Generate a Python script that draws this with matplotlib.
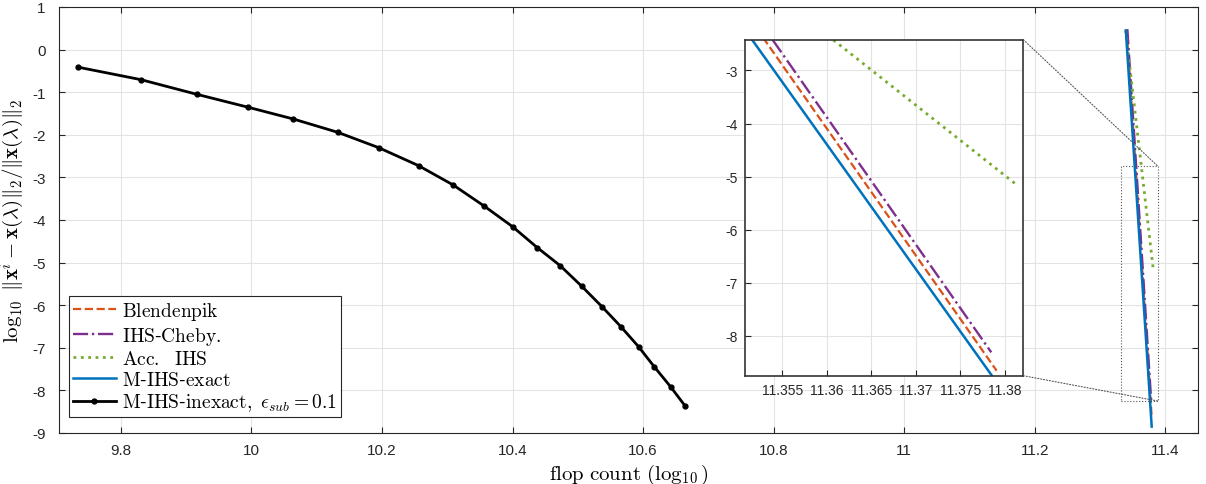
import matplotlib
matplotlib.use("Agg")
import matplotlib.pyplot as plt
from matplotlib.patches import Rectangle, ConnectionPatch

plt.rcParams['font.family'] = ['Liberation Sans', 'DejaVu Sans']
plt.rcParams['mathtext.fontset'] = 'cm'

# data (x: log10 flops, y: log10 relative error)
inexact_x = [9.735, 9.831, 9.916, 9.995, 10.064, 10.132, 10.195, 10.256, 10.309, 10.357,
             10.400, 10.438, 10.473, 10.506, 10.537, 10.566, 10.593, 10.617, 10.642, 10.664]
inexact_y = [-0.415, -0.707, -1.049, -1.354, -1.629, -1.941, -2.303, -2.725, -3.178, -3.678,
             -4.157, -4.650, -5.073, -5.556, -6.035, -6.505, -6.974, -7.444, -7.913, -8.359]

exact_x = [11.3394, 11.3516, 11.3790]
exact_y = [0.45, -2.42, -8.85]
blend_x = [11.3409, 11.3530, 11.3791]
blend_y = [0.45, -2.42, -8.655]
cheby_x = [11.3417, 11.3539, 11.3785]
cheby_y = [0.48, -2.42, -8.31]
acc_x = [11.3390, 11.3607, 11.3814]
acc_y = [0.45, -2.42, -5.16]

labels = ['$\\mathrm{Blendenpik}$', '$\\mathrm{IHS}$' + '-' + '$\\mathrm{Cheby.}$',
          '$\\mathrm{Acc.\\ \\ IHS}$', '$\\mathrm{M}$-$\\mathrm{IHS}$-$\\mathrm{exact}$',
          '$\\mathrm{M}$-$\\mathrm{IHS}$-$\\mathrm{inexact,}\\ \\epsilon_{sub} = 0.1$']

xticks = [9.8, 10, 10.2, 10.4, 10.6, 10.8, 11, 11.2, 11.4]
xtick_labels = ['9.8', '10', '10.2', '10.4', '10.6', '10.8', '11', '11.2', '11.4']
yticks = list(range(-9, 2))
in_xticks = [11.355, 11.36, 11.365, 11.37, 11.375, 11.38]
in_xtick_labels = ['11.355', '11.36', '11.365', '11.37', '11.375', '11.38']
in_yticks = [-8, -7, -6, -5, -4, -3]

c_blend = (0.850, 0.325, 0.098)
c_cheby = (0.494, 0.184, 0.556)
c_acc = (0.466, 0.674, 0.188)
c_exact = (0.000, 0.447, 0.741)


def draw_lines(ax):
    h = []
    h += ax.plot(blend_x, blend_y, '--', color=c_blend, lw=1.6)
    h += ax.plot(cheby_x, cheby_y, '-.', color=c_cheby, lw=1.7)
    h += ax.plot(acc_x, acc_y, ':', color=c_acc, lw=2)
    h += ax.plot(exact_x, exact_y, '-', color=c_exact, lw=1.8)
    return h


def style(ax):
    ax.grid(True, color='#e3e3e3', lw=0.8)
    ax.set_axisbelow(True)
    ax.tick_params(direction='in', top=True, right=True, length=4, width=0.8, colors='#262626')
    for s in ax.spines.values():
        s.set_color('#262626')
        s.set_linewidth(0.8)


fig = plt.figure(figsize=(12.06, 4.85), dpi=100)
ax = fig.add_axes([0.0493, 0.1052, 0.9440, 0.8784])
h = draw_lines(ax)
h += ax.plot(inexact_x, inexact_y, '-', color='k', lw=2, marker='.', ms=7)
ax.set_xlim(9.706, 11.4498)
ax.set_ylim(-9, 1)
ax.set_xticks(xticks)
ax.set_xticklabels(xtick_labels)
ax.set_yticks(yticks)
ax.set_yticklabels([str(v) for v in yticks])
style(ax)
ax.tick_params(labelsize=11, labelcolor='#262626')
ax.tick_params(axis='x', pad=7)
ax.tick_params(axis='y', pad=10)
ax.set_xlabel('$\\mathrm{flop\\ count\\ }(\\log_{10})$', fontsize=15, labelpad=4)
ax.set_ylabel('$\\log_{10}\\ \\|\\mathbf{x}^i - \\mathbf{x}(\\lambda)\\|_2 / \\|\\mathbf{x}(\\lambda)\\|_2$',
              fontsize=15, labelpad=4)

leg = ax.legend(h, labels, loc='lower left', bbox_to_anchor=(0.0083, 0.0369), fontsize=14,
                frameon=True, fancybox=False, framealpha=1, edgecolor='#262626',
                handlelength=2.2, handletextpad=0.32, borderpad=0.2, labelspacing=0.15,
                borderaxespad=0)
leg.get_frame().set_linewidth(0.8)

# zoom box in the main axes
rx0, rx1, ry0, ry1 = 11.3323, 11.388, -8.249, -2.732
ax.add_patch(Rectangle((rx0, ry0), rx1 - rx0, ry1 - ry0, fill=False, ls=':', lw=0.8,
                       ec='#555555', zorder=5))

axi = fig.add_axes([0.6177, 0.2233, 0.2308, 0.6928])
draw_lines(axi)
axi.set_xlim(11.3508, 11.3821)
axi.set_ylim(-8.75, -2.42)
axi.set_xticks(in_xticks)
axi.set_xticklabels(in_xtick_labels)
axi.set_yticks(in_yticks)
axi.set_yticklabels([str(v) for v in in_yticks])
style(axi)
axi.tick_params(top=False, right=False, labelsize=10, labelcolor='#262626', pad=5)
for s in axi.spines.values():
    s.set_color('#333333')
    s.set_linewidth(1.2)

for ya, yb in [(1, ry1), (0, ry0)]:
    con = ConnectionPatch(xyA=(1, ya), coordsA=axi.transAxes, xyB=(rx1, yb), coordsB=ax.transData,
                          ls=':', lw=0.8, color='#555555')
    fig.add_artist(con)

fig.savefig('out.png', dpi=100)
